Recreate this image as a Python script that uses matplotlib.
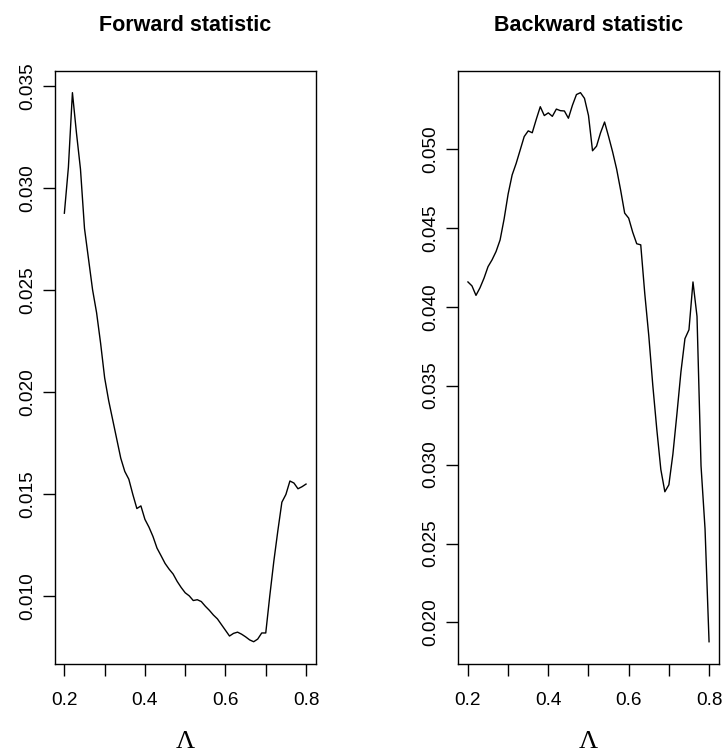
import matplotlib
matplotlib.use("Agg")
from matplotlib import pyplot as plt
import numpy as np

# grid of Lambda values (0.20 .. 0.80 by 0.01)
lam = np.round(np.arange(0.20, 0.8001, 0.01), 2)

forward = [0.02877, 0.03102, 0.03468, 0.03271, 0.03093, 0.02802, 0.02652, 0.02502,
           0.02389, 0.02239, 0.02070, 0.01958, 0.01864, 0.01770, 0.01676, 0.01611,
           0.01573, 0.01498, 0.01429, 0.01442, 0.01376, 0.01338, 0.01292, 0.01235,
           0.01198, 0.01160, 0.01132, 0.01108, 0.01072, 0.01042, 0.01016, 0.01001,
           0.00978, 0.00982, 0.00973, 0.00950, 0.00930, 0.00907, 0.00888, 0.00860,
           0.00832, 0.00804, 0.00817, 0.00823, 0.00813, 0.00800, 0.00785, 0.00776,
           0.00789, 0.00819, 0.00819, 0.01001, 0.01170, 0.01320, 0.01460, 0.01498,
           0.01564, 0.01554, 0.01526, 0.01536, 0.01549]

backward = [0.04157, 0.04132, 0.04072, 0.04120, 0.04181, 0.04254, 0.04297, 0.04350,
            0.04423, 0.04556, 0.04714, 0.04835, 0.04908, 0.04993, 0.05078, 0.05114,
            0.05102, 0.05187, 0.05267, 0.05211, 0.05228, 0.05206, 0.05252, 0.05242,
            0.05240, 0.05194, 0.05276, 0.05344, 0.05356, 0.05320, 0.05211, 0.04988,
            0.05017, 0.05102, 0.05170, 0.05078, 0.04981, 0.04872, 0.04738, 0.04593,
            0.04561, 0.04472, 0.04399, 0.04392, 0.04084, 0.03817, 0.03502, 0.03222,
            0.02969, 0.02828, 0.02872, 0.03066, 0.03320, 0.03587, 0.03798, 0.03854,
            0.04157, 0.03939, 0.02993, 0.02593, 0.01878]

xticks = [0.2, 0.3, 0.4, 0.5, 0.6, 0.7, 0.8]
xticklabels = ["0.2", "", "0.4", "", "0.6", "", "0.8"]
fwd_yticks = [0.010, 0.015, 0.020, 0.025, 0.030, 0.035]
bwd_yticks = [0.020, 0.025, 0.030, 0.035, 0.040, 0.045, 0.050]

plt.rcParams['font.family'] = ['Liberation Sans', 'DejaVu Sans']

fig = plt.figure(figsize=(7.24, 7.54), dpi=100)


def r_lim(v):
    # R style 4% axis expansion
    lo, hi = min(v), max(v)
    d = (hi - lo) * 0.04
    return lo - d, hi + d


def panel(rect, y, yticks, title):
    ax = fig.add_axes(rect)
    ax.plot(lam, y, color="black", linewidth=1.0)
    ax.set_xlim(r_lim(lam))
    ax.set_ylim(r_lim(y))
    ax.set_xticks(xticks)
    ax.set_xticklabels(xticklabels)
    ax.set_yticks(yticks)
    ax.set_yticklabels(["%.3f" % t for t in yticks], rotation=90, va="center")
    ax.tick_params(axis="both", length=8.4, width=1.0, labelsize=13.7, color="black")
    ax.tick_params(axis="x", pad=12)
    ax.tick_params(axis="y", pad=5)
    for s in ax.spines.values():
        s.set_linewidth(1.0)
    ax.set_title(title, fontsize=15.5, fontweight="bold", pad=28.8)
    ax.set_xlabel("Λ", fontsize=19, family=["Liberation Serif", "DejaVu Serif"], labelpad=16)
    return ax


panel([54.7 / 724, 90.3 / 754, 261.0 / 724, 593.0 / 754], forward, fwd_yticks, "Forward statistic")
panel([458.3 / 724, 90.3 / 754, 260.4 / 724, 593.0 / 754], backward, bwd_yticks, "Backward statistic")

plt.savefig("out.png", dpi=100)
